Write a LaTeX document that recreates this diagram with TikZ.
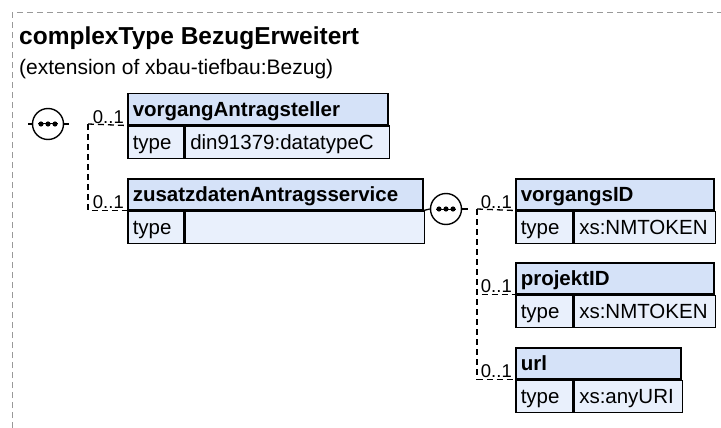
\documentclass[tikz,border=0pt]{standalone}
\usepackage{fontspec}
\setmainfont{Liberation Sans}
\usetikzlibrary{positioning, calc}

\definecolor{headblue}{RGB}{213,226,248}
\definecolor{rowblue}{RGB}{233,240,252}
\newcommand\elemfont{\fontsize{20.5}{24}\selectfont}

\begin{document}
\begin{tikzpicture}[
    x=1pt, y=-1pt,
    frame/.style={draw=black!40, line width=1pt, dash pattern=on 6pt off 4pt},
    head/.style={rectangle, draw=black, line width=1.5pt, fill=headblue, anchor=north west, text width=#1, align=left, minimum height=31pt, inner xsep=5pt, inner ysep=0pt, text height=15pt, text depth=1pt, font=\elemfont\bfseries},
    cell/.style={rectangle, draw=black, line width=1.5pt, fill=rowblue, text width=#1, align=left, minimum height=32pt, inner xsep=5pt, inner ysep=0pt, text height=15pt, text depth=1pt, font=\elemfont},
    seq/.style={circle, draw=black, line width=1.4pt, fill=white, minimum size=31pt, inner sep=0pt},
    link/.style={line width=1.3pt},
    opt/.style={line width=1.3pt, dash pattern=on 6pt off 4pt},
    mult/.style={inner sep=0pt, anchor=south east, font=\fontsize{18.5}{21}\selectfont}
]
\useasboundingbox (0,0) rectangle (721,428);

% Frame and heading
\draw[frame] (12,428) -- (12,13) -- (721,13);
\node[inner sep=0pt, anchor=base west, font=\fontsize{24.5}{28}\selectfont\bfseries] (title) at (19,45) {complexType BezugErweitert};
\node[inner sep=0pt, anchor=base west, font=\fontsize{21}{24}\selectfont] (ext) at (19,75) {(extension of xbau-tiefbau:Bezug)};

% Elements of the outer sequence
\node[head=250pt] (vorgang) at (127,93) {vorgangAntragsteller};
\node[cell=46pt, anchor=north west] (vorgangK) at (vorgang.south west) {type};
\node[cell=194pt, right=0pt of vorgangK] (vorgangV) {din91379:datatypeC};

\node[head=285pt] (zusatz) at (127,178) {zusatzdatenAntragsservice};
\node[cell=46pt, anchor=north west] (zusatzK) at (zusatz.south west) {type};
\node[cell=229pt, right=0pt of zusatzK] (zusatzV) {};

% Elements of the inner sequence
\node[head=188pt] (vid) at (515,178) {vorgangsID};
\node[cell=47pt, anchor=north west] (vidK) at (vid.south west) {type};
\node[cell=131pt, right=0pt of vidK] (vidV) {xs:NMTOKEN};

\node[head=188pt] (pid) at (515,262) {projektID};
\node[cell=47pt, anchor=north west] (pidK) at (pid.south west) {type};
\node[cell=131pt, right=0pt of pidK] (pidV) {xs:NMTOKEN};

\node[head=155pt] (url) at (515,347) {url};
\node[cell=47pt, anchor=north west] (urlK) at (url.south west) {type};
\node[cell=98pt, right=0pt of urlK] (urlV) {xs:anyURI};

% Sequences
\node[seq] (seqA) at (48,124) {};
\node[seq] (seqB) at (446,209) {};
\foreach \s in {seqA, seqB} {
    \draw[line width=1pt] ([xshift=-10pt]\s.center) -- ([xshift=10pt]\s.center);
    \foreach \dx in {-7,0,7}
        \fill ([xshift=\dx pt]\s.center) circle (2.6);
}

\coordinate (inA) at (28,124);
\coordinate (outA) at (69,124);
\coordinate (busA) at (88,124);
\coordinate (outB) at (468,209);
\coordinate (busB) at (477,209);

% Connections
\draw[link] (inA) -- (seqA.west);
\draw[link] (seqA.east) -- (outA);
\draw[opt] (busA) -- (vorgang.south west);
\draw[opt] (busA) |- (zusatz.south west);

\draw[link] (zusatz.south east) -- (seqB.west);
\draw[link] (seqB.east) -- (outB);
\draw[opt] (busB) -- (vid.south west);
\draw[opt] (busB) |- (pid.south west);
\draw[opt] (busB) |- (url.south west);

% Occurrences
\node[mult] (mVorgang) at ([xshift=-3pt, yshift=2pt]vorgang.south west) {0..1};
\node[mult] (mZusatz) at ([xshift=-3pt, yshift=2pt]zusatz.south west) {0..1};
\node[mult] (mVid) at ([xshift=-3pt, yshift=2pt]vid.south west) {0..1};
\node[mult] (mPid) at ([xshift=-3pt, yshift=2pt]pid.south west) {0..1};
\node[mult] (mUrl) at ([xshift=-3pt, yshift=2pt]url.south west) {0..1};

\end{tikzpicture}
\end{document}
